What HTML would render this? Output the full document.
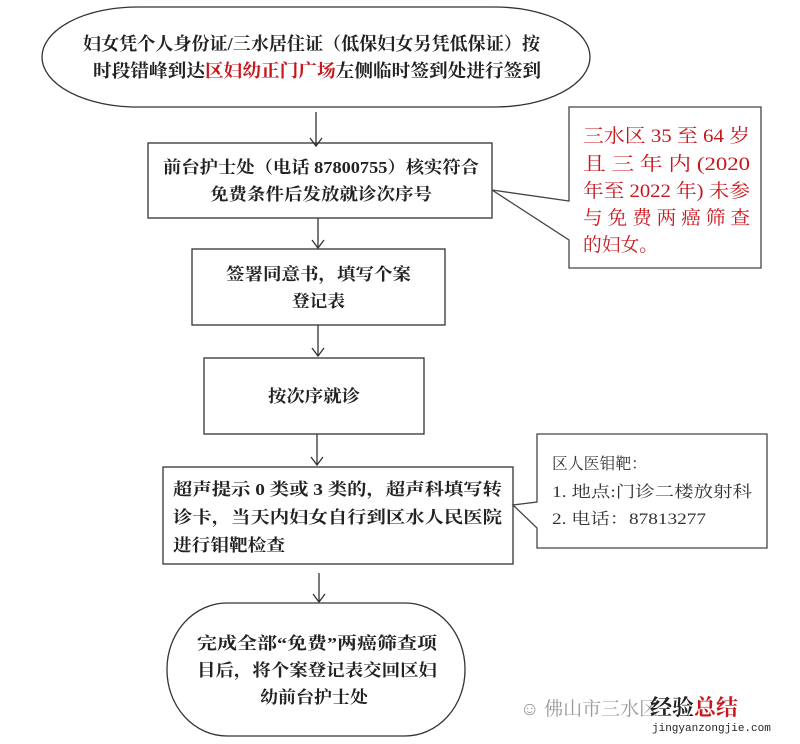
<!DOCTYPE html>
<html><head><meta charset="utf-8"><style>
html,body{margin:0;padding:0;background:#fff;}
svg{display:block;}
text{font-family:"Liberation Serif","Noto Serif CJK SC",serif;font-weight:bold;fill:#222;}
.r{fill:#c8161d;font-weight:normal;}
.n{font-weight:normal;fill:#333;}
</style></head><body>
<svg width="800" height="744" viewBox="0 0 800 744" xmlns="http://www.w3.org/2000/svg">
<g fill="none" stroke="#333" stroke-width="1.3">
<rect x="42" y="7" width="548" height="100" rx="95" ry="50"/>
<line x1="316" y1="112" x2="316" y2="146"/><polyline points="310,138 316,146 322,138"/>
<rect x="148" y="143" width="344" height="75"/>
<line x1="318" y1="218" x2="318" y2="248"/><polyline points="312,240 318,248 324,240"/>
<rect x="192" y="249" width="253" height="76"/>
<line x1="318" y1="325" x2="318" y2="356"/><polyline points="312,348 318,356 324,348"/>
<rect x="204" y="358" width="220" height="76"/>
<line x1="317" y1="434" x2="317" y2="465"/><polyline points="311,457 317,465 323,457"/>
<rect x="163" y="467" width="350" height="97"/>
<line x1="319" y1="573" x2="319" y2="602"/><polyline points="313,594 319,602 325,594"/>
<rect x="167" y="603" width="298" height="133" rx="60" ry="66"/>
</g>
<path d="M569,107 H761 V268 H569 V240 L492,190 L569,201 Z" fill="#fff" stroke="#444" stroke-width="1.3"/>
<path d="M537,434 H767 V548 H537 V528 L513,505 L537,502 Z" fill="#fff" stroke="#444" stroke-width="1.3"/>
<g font-size="18">
<text x="83" y="50" textLength="457" lengthAdjust="spacingAndGlyphs">妇女凭个人身份证/三水居住证（低保妇女另凭低保证）按</text>
<text x="93" y="77" textLength="448" lengthAdjust="spacingAndGlyphs">时段错峰到达<tspan class="r" style="font-weight:bold">区妇幼正门广场</tspan>左侧临时签到处进行签到</text>
</g>
<g font-size="17">
<text x="163" y="173" textLength="316" lengthAdjust="spacingAndGlyphs">前台护士处（电话 87800755）核实符合</text>
<text x="210" y="200" textLength="222" lengthAdjust="spacingAndGlyphs">免费条件后发放就诊次序号</text>
<text x="226" y="280" textLength="185" lengthAdjust="spacingAndGlyphs">签署同意书，填写个案</text>
<text x="292" y="307" textLength="53" lengthAdjust="spacingAndGlyphs">登记表</text>
<text x="268" y="402" textLength="92" lengthAdjust="spacingAndGlyphs">按次序就诊</text>
<text x="173" y="495" textLength="329" lengthAdjust="spacingAndGlyphs">超声提示 0 类或 3 类的，超声科填写转</text>
<text x="173" y="523" textLength="329" lengthAdjust="spacingAndGlyphs">诊卡，当天内妇女自行到区水人民医院</text>
<text x="173" y="551" textLength="112" lengthAdjust="spacingAndGlyphs">进行钼靶检查</text>
<text x="197" y="649" textLength="240" lengthAdjust="spacingAndGlyphs">完成全部“免费”两癌筛查项</text>
<text x="197" y="676" textLength="240" lengthAdjust="spacingAndGlyphs">目后，将个案登记表交回区妇</text>
<text x="260" y="703" textLength="108" lengthAdjust="spacingAndGlyphs">幼前台护士处</text>
</g>
<g font-size="19">
<text class="r" x="583" y="142" textLength="167" lengthAdjust="spacingAndGlyphs">三水区 35  至 64 岁</text>
<text class="r" x="583" y="170" textLength="167" lengthAdjust="spacingAndGlyphs">且 三 年 内  (2020</text>
<text class="r" x="583" y="197" textLength="167" lengthAdjust="spacingAndGlyphs">年至 2022 年) 未参</text>
<text class="r" x="583" y="224" textLength="167" lengthAdjust="spacingAndGlyphs">与 免 费 两 癌 筛 查</text>
<text class="r" x="583" y="251" textLength="75" lengthAdjust="spacingAndGlyphs">的妇女。</text>
</g>
<g font-size="16">
<text class="n" x="552" y="469" textLength="95" lengthAdjust="spacingAndGlyphs">区人医钼靶：</text>
<text class="n" x="552" y="497" textLength="200" lengthAdjust="spacingAndGlyphs">1.  地点:门诊二楼放射科</text>
<text class="n" x="552" y="524" textLength="154" lengthAdjust="spacingAndGlyphs">2.  电话：87813277</text>
</g>
<text x="520" y="715" font-size="19" style="fill:#999;font-weight:normal">☺ 佛山市三水区</text>
<text x="650" y="715" font-size="22" style="fill:#222">经验<tspan style="fill:#c8161d">总结</tspan></text>
<text x="652" y="731" font-size="11" style="font-family:'Liberation Mono',monospace;fill:#222;font-weight:normal">jingyanzongjie.com</text>
</svg>
</body></html>
